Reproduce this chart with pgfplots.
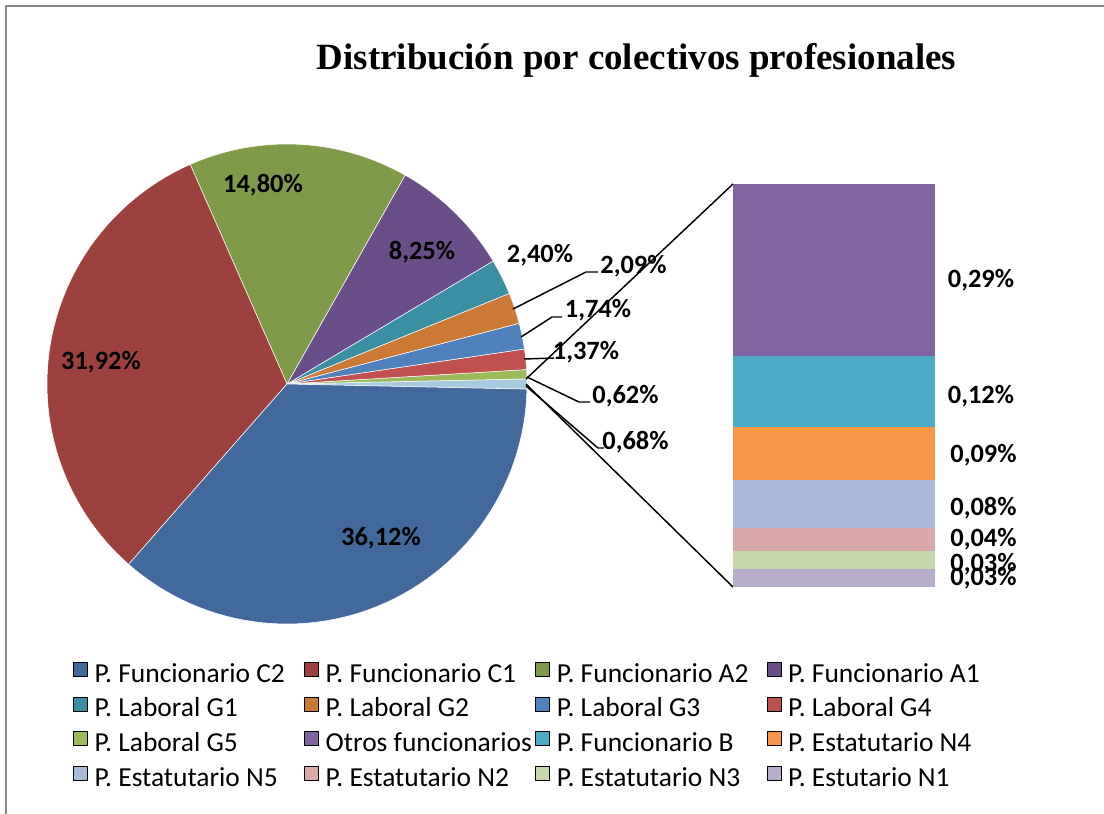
\documentclass[border=0pt]{standalone}
\usepackage{pgfplots}
\pgfplotsset{compat=1.18}
\usepackage{fontspec}
\setmainfont{Carlito}
\newfontfamily\titlefont{Liberation Serif}

\definecolor{cC2}{HTML}{41699C}
\definecolor{cC1}{HTML}{9C413E}
\definecolor{cA2}{HTML}{7F9A48}
\definecolor{cA1}{HTML}{6A4E8A}
\definecolor{cG1}{HTML}{3B8FA3}
\definecolor{cG2}{HTML}{CD7A37}
\definecolor{cG3}{HTML}{4F81BD}
\definecolor{cG4}{HTML}{C0504D}
\definecolor{cG5}{HTML}{9BBB59}
\definecolor{cOT}{HTML}{A7CBDE}
\definecolor{cOF}{HTML}{8064A2}
\definecolor{cB}{HTML}{4BACC6}
\definecolor{cN4}{HTML}{F79646}
\definecolor{cN5}{HTML}{AAB9D7}
\definecolor{cN2}{HTML}{D9A9A9}
\definecolor{cN3}{HTML}{C6D7AB}
\definecolor{cN1}{HTML}{B8AECB}
\definecolor{framegray}{HTML}{898989}

\newcommand\lbl{\fontsize{19.8pt}{22pt}\selectfont\bfseries}
\newcommand\legfont{\fontsize{20.6pt}{24pt}\selectfont}
\newcommand\lgent[1]{\makebox[157.25pt][l]{#1}}

% pie slice: start (cumulative %), end (cumulative %), colour
% pie centre (287,384) px, radius 240 px, "Otros" slice centred at 0 deg
\newcommand\pieslice[3]{%
  \addplot[fill=#3, draw=white, line width=0.4pt, domain=#1:#2, samples=60, forget plot]
    ({287+240*cos(3.6*x-1.224)},{384-240*sin(3.6*x-1.224)}) -- (axis cs:287,384) -- cycle;
}

\pgfplotsset{sq legend/.style={legend image code/.code={\fill[##1] (0pt,0pt) rectangle (10.5pt,10.5pt);}}}

\begin{document}
\begin{tikzpicture}
\useasboundingbox (0,0) rectangle (828pt,-610.5pt);
\begin{axis}[
  at={(0,0)}, anchor=north west,
  scale only axis, width=828pt, height=610.5pt,
  xmin=0, xmax=1104, ymin=0, ymax=814, y dir=reverse,
  hide axis, clip=false,
  legend columns=4, legend cell align=left,
  legend style={at={(axis cs:73,662)}, anchor=north west, draw=none, fill=none,
    inner sep=0pt, outer sep=0pt, font=\legfont, row sep=6.25pt,
    nodes={inner sep=0pt, text height=13.5pt, text depth=4.5pt},
    /tikz/every odd column/.style={column sep=5.25pt}},
]
% pie values (percent): Otros 0.68, G5 0.62, G4 1.37, G3 1.74, G2 2.09,
% G1 2.40, A1 8.25, A2 14.80, C1 31.92, C2 36.12
\pieslice{0}{0.68}{cOT}
\pieslice{0.68}{1.30}{cG5}
\pieslice{1.30}{2.67}{cG4}
\pieslice{2.67}{4.41}{cG3}
\pieslice{4.41}{6.50}{cG2}
\pieslice{6.50}{8.90}{cG1}
\pieslice{8.90}{17.15}{cA1}
\pieslice{17.15}{31.95}{cA2}
\pieslice{31.95}{63.87}{cC1}
\pieslice{63.87}{100}{cC2}

% connector lines to the bar
\addplot[black, line width=1.1pt, forget plot] coordinates {(526,379) (733,184)};
\addplot[black, line width=1.1pt, forget plot] coordinates {(526,384) (733,587)};
% leader lines
\addplot[black, line width=1.1pt, forget plot] coordinates {(513,309) (586,272) (598,272)};
\addplot[black, line width=1.1pt, forget plot] coordinates {(521,337) (552,317) (562,317)};
\addplot[black, line width=1.1pt, forget plot] coordinates {(524,359) (554,358)};
\addplot[black, line width=1.1pt, forget plot] coordinates {(527,377) (579,402) (590,402)};
\addplot[black, line width=1.1pt, forget plot] coordinates {(526,386) (598,448) (604,448)};

% labels
\node[anchor=base, font=\lbl] at (axis cs:381,545) {36,12\%};
\node[anchor=base, font=\lbl] at (axis cs:101,369) {31,92\%};
\node[anchor=base, font=\lbl] at (axis cs:263,192) {14,80\%};
\node[anchor=base, font=\lbl] at (axis cs:422,259) {8,25\%};
\node[anchor=base, font=\lbl] at (axis cs:540,262) {2,40\%};
\node[anchor=base, font=\lbl] at (axis cs:633.5,273) {2,09\%};
\node[anchor=base, font=\lbl] at (axis cs:598,317) {1,74\%};
\node[anchor=base, font=\lbl] at (axis cs:586,359) {1,37\%};
\node[anchor=base, font=\lbl] at (axis cs:625.5,403) {0,62\%};
\node[anchor=base, font=\lbl] at (axis cs:635.5,449) {0,68\%};
\node[anchor=base, font=\lbl] at (axis cs:981,287) {0,29\%};
\node[anchor=base, font=\lbl] at (axis cs:981,403) {0,12\%};
\node[anchor=base, font=\lbl] at (axis cs:983.5,462) {0,09\%};
\node[anchor=base, font=\lbl] at (axis cs:983.5,515) {0,08\%};
\node[anchor=base, font=\lbl] at (axis cs:983.5,546) {0,04\%};
\node[anchor=base, font=\lbl] at (axis cs:983.5,571) {0,03\%};
\node[anchor=base, font=\lbl] at (axis cs:983.5,585) {0,03\%};

% title
\node[anchor=base, font=\titlefont\fontsize{27.75pt}{30pt}\selectfont\bfseries] at (axis cs:636.5,69) {Distribución por colectivos profesionales};

% legend
\addlegendimage{sq legend, fill=cC2}\addlegendentry{\lgent{P. Funcionario C2}}
\addlegendimage{sq legend, fill=cC1}\addlegendentry{\lgent{P. Funcionario C1}}
\addlegendimage{sq legend, fill=cA2}\addlegendentry{\lgent{P. Funcionario A2}}
\addlegendimage{sq legend, fill=cA1}\addlegendentry{\lgent{P. Funcionario A1}}
\addlegendimage{sq legend, fill=cG1}\addlegendentry{\lgent{P. Laboral G1}}
\addlegendimage{sq legend, fill=cG2}\addlegendentry{\lgent{P. Laboral G2}}
\addlegendimage{sq legend, fill=cG3}\addlegendentry{\lgent{P. Laboral G3}}
\addlegendimage{sq legend, fill=cG4}\addlegendentry{\lgent{P. Laboral G4}}
\addlegendimage{sq legend, fill=cG5}\addlegendentry{\lgent{P. Laboral G5}}
\addlegendimage{sq legend, fill=cOF}\addlegendentry{\lgent{Otros funcionarios}}
\addlegendimage{sq legend, fill=cB}\addlegendentry{\lgent{P. Funcionario B}}
\addlegendimage{sq legend, fill=cN4}\addlegendentry{\lgent{P. Estatutario N4}}
\addlegendimage{sq legend, fill=cN5}\addlegendentry{\lgent{P. Estatutario N5}}
\addlegendimage{sq legend, fill=cN2}\addlegendentry{\lgent{P. Estatutario N2}}
\addlegendimage{sq legend, fill=cN3}\addlegendentry{\lgent{P. Estatutario N3}}
\addlegendimage{sq legend, fill=cN1}\addlegendentry{\lgent{P. Estutario N1}}
\end{axis}

% stacked bar of the "Otros" slice (0.68%)
\begin{axis}[
  at={(549.75pt,-440.25pt)}, anchor=south west,
  scale only axis, width=151.5pt, height=302.25pt,
  xmin=0, xmax=1, ymin=0, ymax=0.68,
  ybar stacked, bar width=151.5pt,
  hide axis, clip=false,
]
\addplot[fill=cN1, draw=none] coordinates {(0.5,0.03)};
\addplot[fill=cN3, draw=none] coordinates {(0.5,0.03)};
\addplot[fill=cN2, draw=none] coordinates {(0.5,0.04)};
\addplot[fill=cN5, draw=none] coordinates {(0.5,0.08)};
\addplot[fill=cN4, draw=none] coordinates {(0.5,0.09)};
\addplot[fill=cB, draw=none] coordinates {(0.5,0.12)};
\addplot[fill=cOF, draw=none] coordinates {(0.5,0.29)};
\end{axis}

\draw[framegray, line width=1.5pt] (4.5pt,-610.5pt) -- (4.5pt,-4.5pt) -- (828pt,-4.5pt);
\end{tikzpicture}
\end{document}
